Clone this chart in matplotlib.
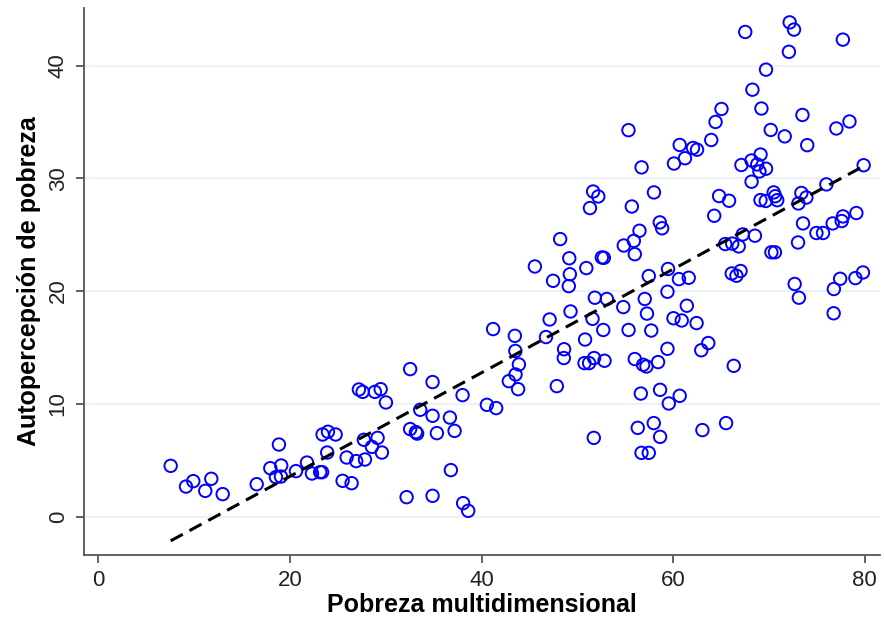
import numpy as np
import matplotlib
matplotlib.use("Agg")
import matplotlib.pyplot as plt

plt.rcParams['font.family'] = ['Liberation Sans', 'DejaVu Sans']

# Pobreza multidimensional (x) and Autopercepción de pobreza (y)
pobreza_multi = [
    7.55, 9.15, 9.91, 11.16, 11.79, 12.98, 16.53, 17.95, 18.54, 18.85,
    19.09, 19.06, 20.63, 21.78, 22.30, 23.15, 23.36, 23.41, 23.97, 24.77,
    23.89, 25.50, 25.92, 26.44, 26.92, 27.20, 27.59, 27.83, 27.72, 28.56,
    28.87, 29.47, 30.02, 29.15, 29.60, 32.55, 32.18, 32.55, 33.15, 33.28,
    33.60, 34.89, 34.89, 35.34, 34.89, 36.70, 37.19, 36.80, 38.02, 38.08,
    38.61, 40.56, 41.53,
    72.17, 72.62, 67.53, 77.72, 72.09, 69.70, 68.28, 69.22, 65.05, 64.43,
    73.50, 78.41, 77.04, 70.19, 71.65, 74.00, 63.98, 55.34, 60.69, 62.08,
    62.50, 61.24, 60.09, 56.71, 69.13, 68.18, 67.13, 68.78, 69.01, 69.70,
    68.19, 79.89, 76.00, 58.00, 51.65, 52.19, 51.32, 55.69, 64.80, 65.84,
    64.29, 69.12, 69.67, 70.50, 70.66, 70.87, 73.39, 73.91, 73.08, 73.56,
    73.04, 74.96, 75.65, 76.66, 77.60, 77.73, 79.13, 79.82, 79.03, 77.44,
    76.78, 72.69, 73.13, 58.61, 58.85, 56.49, 55.90, 54.85, 56.00, 48.21,
    49.16, 45.57, 47.47, 49.22, 49.11, 50.94, 52.56, 52.77, 51.83, 53.08,
    57.46, 59.47, 60.61, 61.63, 59.41, 57.04, 65.44, 66.17, 66.85, 67.27,
    68.54, 70.26, 70.63, 66.12, 66.61, 67.04, 54.80, 61.43, 57.27, 76.76,
    49.29, 47.11, 51.59, 60.04, 60.90, 62.45, 41.21, 52.71, 55.35, 57.72,
    43.48, 46.73, 50.81, 63.67, 62.94, 59.41, 43.53, 48.62, 48.59, 43.90,
    50.75, 51.23, 51.75, 52.84, 56.00, 56.87, 57.22, 58.43, 66.33, 43.55,
    42.85, 43.82, 47.86, 56.63, 58.64, 60.69, 59.55, 56.31, 57.98, 58.64,
    51.72, 63.06, 65.53, 56.70, 57.46,
]
autopercepcion = [
    4.50, 2.66, 3.14, 2.28, 3.35, 1.99, 2.87, 4.29, 3.50, 6.39,
    4.53, 3.55, 4.03, 4.79, 3.82, 3.94, 3.94, 7.28, 7.52, 7.28,
    5.68, 3.17, 5.24, 2.96, 4.92, 11.27, 11.06, 5.06, 6.81, 6.18,
    11.06, 11.30, 10.12, 6.98, 5.68, 13.08, 1.72, 7.76, 7.49, 7.36,
    9.47, 11.93, 8.94, 7.40, 1.84, 8.78, 7.60, 4.12, 10.77, 1.19,
    0.51, 9.91, 9.62,
    43.83, 43.19, 42.98, 42.30, 41.22, 39.64, 37.86, 36.19, 36.15, 35.00,
    35.62, 35.04, 34.42, 34.29, 33.72, 32.94, 33.40, 34.27, 32.96, 32.69,
    32.54, 31.78, 31.31, 30.97, 32.11, 31.58, 31.18, 31.23, 30.61, 30.85,
    29.70, 31.16, 29.46, 28.75, 28.83, 28.39, 27.36, 27.50, 28.43, 28.01,
    26.68, 28.07, 27.99, 28.75, 28.41, 28.06, 28.70, 28.30, 27.77, 26.00,
    24.31, 25.15, 25.15, 26.00, 26.21, 26.62, 26.92, 21.65, 21.15, 21.09,
    20.18, 20.63, 19.41, 26.09, 25.57, 25.35, 24.45, 24.04, 23.27, 24.61,
    22.91, 22.18, 20.91, 21.49, 20.44, 22.04, 22.98, 22.95, 19.41, 19.30,
    21.33, 21.96, 21.06, 21.18, 19.94, 19.30, 24.17, 24.21, 23.96, 25.02,
    24.91, 23.44, 23.44, 21.56, 21.36, 21.78, 18.58, 18.70, 18.00, 18.03,
    18.19, 17.48, 17.54, 17.59, 17.39, 17.16, 16.63, 16.55, 16.55, 16.50,
    16.03, 15.92, 15.70, 15.39, 14.75, 14.88, 14.69, 14.84, 14.06, 13.49,
    13.61, 13.61, 14.06, 13.82, 13.97, 13.46, 13.31, 13.70, 13.37, 12.60,
    12.01, 11.30, 11.57, 10.91, 11.24, 10.71, 10.03, 7.87, 8.29, 7.07,
    6.98, 7.67, 8.29, 5.65, 5.65,
]
x_ticks = [0, 20, 40, 60, 80]
y_ticks = [0, 10, 20, 30, 40]
x_label = "Pobreza multidimensional"
y_label = "Autopercepción de pobreza"

x = np.array(pobreza_multi)
y = np.array(autopercepcion)

fig = plt.figure(figsize=(8.84, 6.2), dpi=100)
ax = fig.add_axes([0.095, 0.105, 0.9005, 0.882])

for t in y_ticks:
    ax.axhline(t, color='#eaf2f3', lw=1.5, zorder=0)

ax.scatter(x, y, s=80, facecolors='none', edgecolors='#0000ff', linewidths=1.4, zorder=2)

slope, intercept = np.polyfit(x, y, 1)
xs = np.array([x.min(), x.max()])
ax.plot(xs, intercept + slope * xs, color='black', lw=2.2, ls=(0, (4.5, 2.5)), zorder=3)

ax.set_xlim(-1.5, 81.6)
ax.set_ylim(-3.4, 45.1)
ax.set_xticks(x_ticks)
ax.set_yticks(y_ticks)
ax.set_yticklabels([str(v) for v in y_ticks], rotation=90, va='center')
for side in ['top', 'right']:
    ax.spines[side].set_visible(False)
for side in ['left', 'bottom']:
    ax.spines[side].set_color('#555555')
    ax.spines[side].set_linewidth(1.3)
ax.tick_params(axis='both', direction='out', length=6, width=1.3, color='#555555',
               labelsize=16, labelcolor='#222222', pad=5)
ax.set_xlabel(x_label, fontsize=18, fontweight='bold', labelpad=1)
ax.set_ylabel(y_label, fontsize=18, fontweight='bold', labelpad=5)

fig.savefig('out.png', dpi=100)
